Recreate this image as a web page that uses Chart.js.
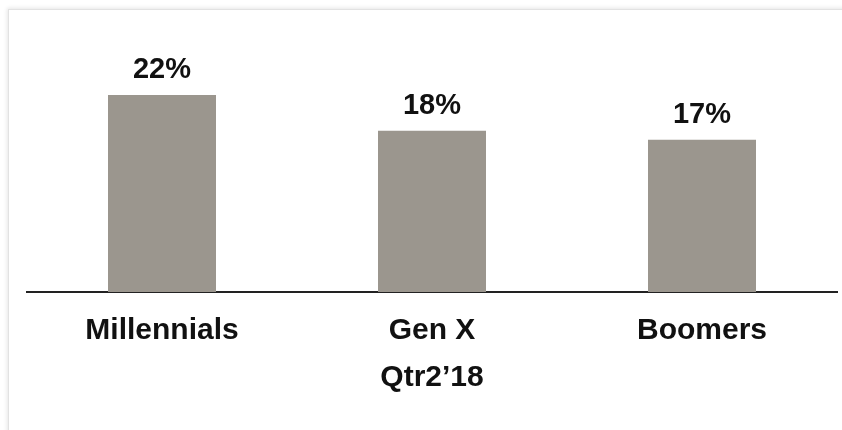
<!DOCTYPE html>
<html>
<head>
<meta charset="utf-8">
<script src="https://cdn.jsdelivr.net/npm/chart.js@4"></script>
<style>
  body { margin: 0; background: #fff; }
  #frame {
    position: absolute; left: 8px; top: 9px; width: 840px; height: 430px;
    border-top: 1px solid #e2e2e2; border-left: 1px solid #e2e2e2;
    box-shadow: -1px -1px 4px rgba(0,0,0,0.10);
  }
  #wrap { position: absolute; left: 0; top: 0; width: 842px; height: 430px; }
</style>
</head>
<body>
<div id="frame"></div>
<div id="wrap"><canvas id="chart"></canvas></div>
<script>
const categories = ['Millennials', 'Gen X', 'Boomers'];
const shares = [22, 18, 17];
const axisTitle = 'Qtr2\u201918';

const font = 'Liberation Sans, Arial, sans-serif';

// draw the % labels above each bar
const valueLabels = {
    id: 'valueLabels',
    afterDatasetsDraw(chart) {
        const ctx = chart.ctx;
        const meta = chart.getDatasetMeta(0);
        ctx.save();
        ctx.font = 'bold 29px ' + font;
        ctx.fillStyle = '#111';
        ctx.textAlign = 'center';
        ctx.textBaseline = 'alphabetic';
        meta.data.forEach((bar, i) => {
            ctx.fillText(shares[i] + '%', bar.x, bar.y - 17);
        });
        ctx.restore();
    }
};

new Chart(document.getElementById('chart'), {
    type: 'bar',
    data: {
        labels: categories,
        datasets: [{
            data: shares,
            backgroundColor: '#9b968e',
            barPercentage: 0.4,
            categoryPercentage: 1.0,
        }],
    },
    options: {
        responsive: true,
        maintainAspectRatio: false,
        animation: false,
        layout: { padding: { top: 68, left: 27, right: 5, bottom: 0 } },
        plugins: { legend: { display: false }, tooltip: { enabled: false } },
        scales: {
            y: { display: false, min: 0, max: 25 },
            x: {
                afterFit(scale) { scale.height = 430 - 292; },
                grid: { display: false, drawTicks: false },
                border: { display: true, color: '#222', width: 2 },
                ticks: {
                    color: '#111',
                    padding: 21,
                    font: { family: font, size: 30, weight: 'bold' },
                },
                title: {
                    display: true,
                    text: axisTitle,
                    color: '#111',
                    padding: { top: 0, bottom: 34 },
                    font: { family: font, size: 30, weight: 'bold' },
                },
            },
        },
    },
    plugins: [valueLabels],
});
</script>
</body>
</html>
